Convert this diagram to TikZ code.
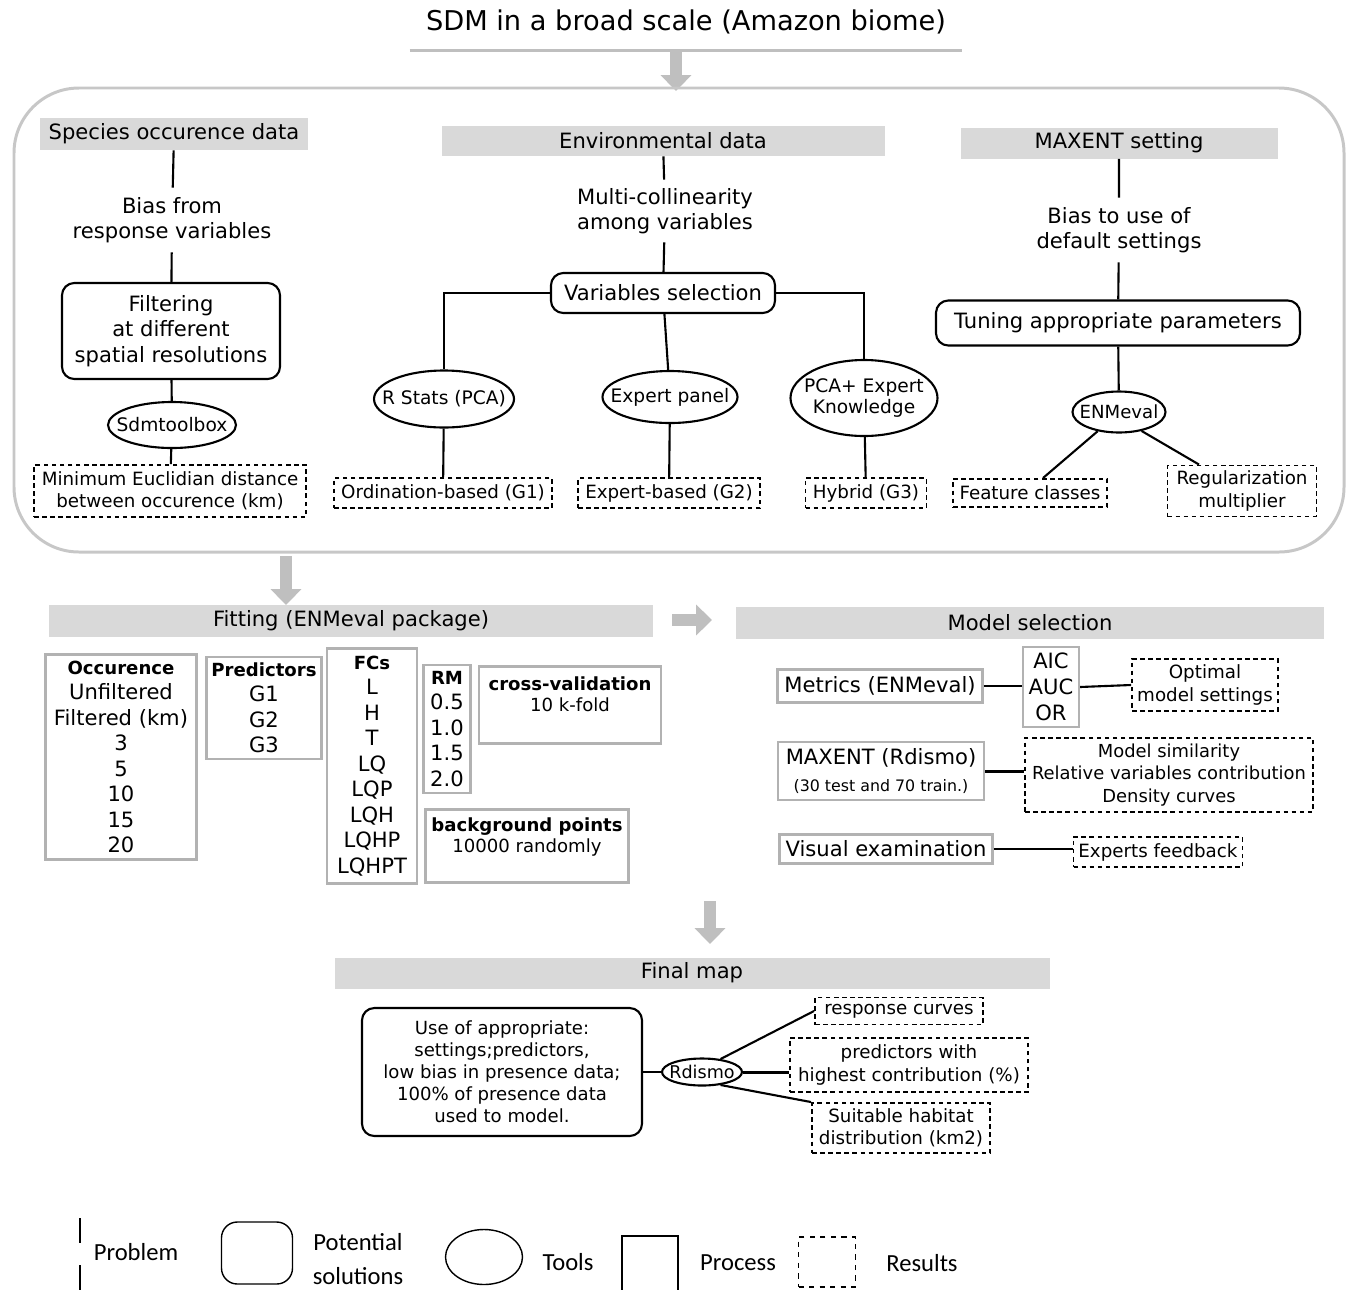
\documentclass[tikz,border=0pt]{standalone}
\usepackage{fontspec}
\setmainfont{DejaVu Sans}
\newfontfamily\legendfont{Carlito}
\usepackage{tikz}
\usetikzlibrary{arrows.meta,shapes.geometric}
\usepackage{xcolor}

\newcommand{\boxhead}[1]{{\fontsize{10.3}{14.5}\selectfont\bfseries #1}}

\begin{document}
\begin{tikzpicture}[
      x=0.02cm, y=-0.02cm,
      sz/.style 2 args={minimum width=#1*0.02cm, minimum height=#2*0.02cm},
      band/.style={fill=black!15, inner sep=0pt, font=\fontsize{12}{14.5}\selectfont},
      problem/.style={align=center, inner sep=0pt, font=\fontsize{12}{14.3}\selectfont},
      solution/.style={draw, rounded corners=7pt, line width=1.2pt, align=center, inner sep=0pt, font=\fontsize{12}{14.5}\selectfont},
      tool/.style={draw, ellipse, line width=1.2pt, align=center, inner xsep=-20pt, inner ysep=-8pt, font=\fontsize{10.6}{12.5}\selectfont},
      result/.style={draw, dash pattern=on 2.6pt off 2pt, line width=1.1pt, align=center, inner sep=0pt, font=\fontsize{10.4}{12.6}\selectfont},
      process/.style={draw=black!30, line width=1.2pt, align=center, inner sep=0pt, font=\fontsize{12}{14.5}\selectfont},
      link/.style={line width=1.2pt},
      bigarrow/.style={line width=7pt, draw=black!25, -{Triangle[length=9pt, width=17pt]}},
      legend/.style={inner sep=0pt, align=center, font=\legendfont\fontsize{14}{19.5}\selectfont}
    ]
    \useasboundingbox (0,0) rectangle (1346,1289);

    % Title and the frame of the first stage
    \node[sz={552}{56}, font=\fontsize{15.5}{18}\selectfont] (title) at (686,22) {SDM in a broad scale (Amazon biome)};
    \draw[black!25, line width=1.7pt] (title.south west) -- (title.south east);
    \coordinate (a1s) at (676,50);
    \coordinate (a1e) at (676,91);
    \draw[bigarrow] (a1s) -- (a1e);
    \draw[black!22, line width=1.7pt, rounded corners=1.3cm] (14,88) rectangle (1344,552);

    % Species occurence data
    \node[band, sz={268}{32}] (band1) at (174,134) {Species occurence data};
    \node[problem, sz={240}{64}] (prob1) at (172,220) {Bias from\\response variables};
    \node[solution, sz={218}{96}, font=\fontsize{12}{14.6}\selectfont] (sol1) at (171,331) {Filtering\\at different\\spatial resolutions};
    \node[tool, sz={128}{46}] (tool1) at (172,425) {Sdmtoolbox};
    \node[result, sz={272}{52}] (res1) at (170,491) {Minimum Euclidian distance\\between occurence (km)};
    \draw[link] (band1) -- (prob1) -- (sol1) -- (tool1) -- (res1);

    % Environmental data
    \node[band, sz={443}{30}] (band2) at (663,141) {Environmental data};
    \node[problem, sz={220}{62}] (prob2) at (665,211) {Multi-collinearity\\among variables};
    \node[solution, sz={224}{40}] (sol2) at (663,293) {Variables selection};
    \node[tool, sz={140}{57}] (tool2a) at (444,399) {R Stats (PCA)};
    \node[tool, sz={135}{52}] (tool2b) at (670,397) {Expert panel};
    \node[tool, sz={147}{76}] (tool2c) at (864,398) {PCA+ Expert\\Knowledge};
    \node[result, sz={218}{30}] (res2a) at (443,493) {Ordination-based (G1)};
    \node[result, sz={182}{30}] (res2b) at (669,493) {Expert-based (G2)};
    \node[result, sz={121}{30}] (res2c) at (866,493) {Hybrid (G3)};
    \draw[link] (band2) -- (prob2) -- (sol2) -- (tool2b) -- (res2b);
    \draw[link] (sol2.west) -| (tool2a.north);
    \draw[link] (sol2.east) -| (tool2c.north);
    \draw[link] (tool2a) -- (res2a);
    \draw[link] (tool2c) -- (res2c);

    % MAXENT setting
    \node[band, sz={317}{31}] (band3) at (1119,143) {MAXENT setting};
    \node[problem, sz={220}{64}] (prob3) at (1119,230) {Bias to use of\\default settings};
    \node[solution, sz={364}{45}] (sol3) at (1118,323) {Tuning appropriate parameters};
    \node[tool, sz={93}{41}, font=\fontsize{10.3}{12}\selectfont] (tool3) at (1119,412) {ENMeval};
    \node[result, sz={154}{28}] (res3a) at (1030,493) {Feature classes};
    \node[result, sz={149}{51}] (res3b) at (1242,491) {Regularization\\multiplier};
    \draw[link] (band3) -- (prob3) -- (sol3) -- (tool3);
    \draw[link] (tool3.222) -- ([xshift=0.26cm]res3a.north);
    \draw[link] (tool3.-40) -- ([xshift=-0.86cm]res3b.north);

    % Fitting
    \coordinate (a2s) at (286,556);
    \coordinate (a2e) at (286,605);
    \draw[bigarrow] (a2s) -- (a2e);
    \node[band, sz={604}{32}] (fitband) at (351,621) {Fitting (ENMeval package)};
    \node[process, sz={151}{205}] (occ) at (121,757) {\boxhead{Occurence}\\Unfiltered\\Filtered (km)\\3\\5\\10\\15\\20};
    \node[process, sz={115}{102}] (pred) at (264,708) {\boxhead{Predictors}\\G1\\G2\\G3};
    \node[process, sz={90}{235}] (fcs) at (372,766) {\boxhead{FCs}\\L\\H\\T\\LQ\\LQP\\LQH\\LQHP\\LQHPT};
    \node[process, sz={47}{128}] (rm) at (447,729) {\boxhead{RM}\\0.5\\1.0\\1.5\\2.0};
    \node[process, sz={182}{77}, font=\fontsize{10.3}{12.2}\selectfont] (cv) at (570,705) {\textbf{cross-validation}\\10 k-fold\\\mbox{}};
    \node[process, sz={203}{73}, font=\fontsize{10.3}{12.2}\selectfont] (bg) at (527,846) {\textbf{background points}\\10000 randomly\\\mbox{}};

    % Model selection
    \coordinate (a3s) at (672,620);
    \coordinate (a3e) at (712,620);
    \draw[bigarrow] (a3s) -- (a3e);
    \node[band, sz={588}{32}] (msband) at (1030,623) {Model selection};
    \node[process, sz={205}{33}] (metrics) at (880,686) {Metrics (ENMeval)};
    \node[process, sz={56}{80}, font=\fontsize{12}{14.8}\selectfont] (aic) at (1051,687) {AIC\\AUC\\OR};
    \node[result, sz={146}{52}] (optimal) at (1205,685) {Optimal\\model settings};
    \node[process, sz={206}{58}] (maxent) at (881,771) {MAXENT (Rdismo)\\[1pt]{\fontsize{9}{11}\selectfont(30 test and 70 train.)}};
    \node[result, sz={288}{74}, font=\fontsize{10.2}{12.8}\selectfont] (mres) at (1169,775) {Model similarity\\Relative variables contribution\\Density curves};
    \node[process, sz={213}{29}] (visual) at (886,849) {Visual examination};
    \node[result, sz={169}{30}] (experts) at (1158,852) {Experts feedback};
    \draw[link] (metrics.east) -- (metrics.east -| aic.west);
    \draw[link] (aic.east) -- (optimal.west);
    \draw[link, line width=1.7pt] (maxent.east) -- (maxent.east -| mres.west);
    \draw[link] (visual.east) -- (visual.east -| experts.west);

    % Final map
    \coordinate (a4s) at (710,901);
    \coordinate (a4e) at (710,944);
    \draw[bigarrow] (a4s) -- (a4e);
    \node[band, sz={715}{31}] (fmband) at (692,973) {Final map};
    \node[solution, sz={280}{128}, font=\fontsize{10.3}{12.5}\selectfont] (usebox) at (502,1072) {Use of appropriate:\\settings;predictors,\\low bias in presence data;\\100\% of presence data\\used to model.};
    \node[tool, sz={80}{27}, font=\fontsize{10}{12}\selectfont] (rdismo) at (702,1072) {Rdismo};
    \node[result, sz={168}{27}] (rc) at (899,1011) {response curves};
    \node[result, sz={238}{54}] (pc) at (909,1065) {predictors with\\highest contribution (\%)};
    \node[result, sz={178}{50}] (sh) at (901,1128) {Suitable habitat\\distribution (km2)};
    \draw[link] (usebox) -- (rdismo);
    \draw[link] (rdismo.35) -- (rc.west);
    \draw[link, line width=1.7pt] (rdismo.east) -- (rdismo.east -| pc.west);
    \draw[link] (rdismo.-35) -- (sh.north west);

    % Legend
    \draw[line width=1pt] (80,1218) -- (80,1243);
    \draw[line width=1pt] (80,1265) -- (80,1292);
    \node[legend] (lgproblem) at (136,1252) {Problem};
    \node[draw, rounded corners=9pt, line width=0.8pt, sz={71}{62}] (lgsolution) at (257,1253) {};
    \node[legend] (lgsoltext) at (358,1259) {Potential\\solutions};
    \node[draw, ellipse, line width=0.8pt, inner sep=0pt, sz={77}{55}] (lgtool) at (484,1257) {};
    \node[legend] (lgtooltext) at (568,1262) {Tools};
    \node[draw, line width=0.8pt, sz={56}{62}] (lgprocess) at (650,1267) {};
    \node[legend] (lgproctext) at (738,1263) {Process};
    \node[draw, dashed, line width=0.8pt, sz={57}{50}] (lgresult) at (827,1262) {};
    \node[legend] (lgrestext) at (922,1263) {Results};
  \end{tikzpicture}
\end{document}
